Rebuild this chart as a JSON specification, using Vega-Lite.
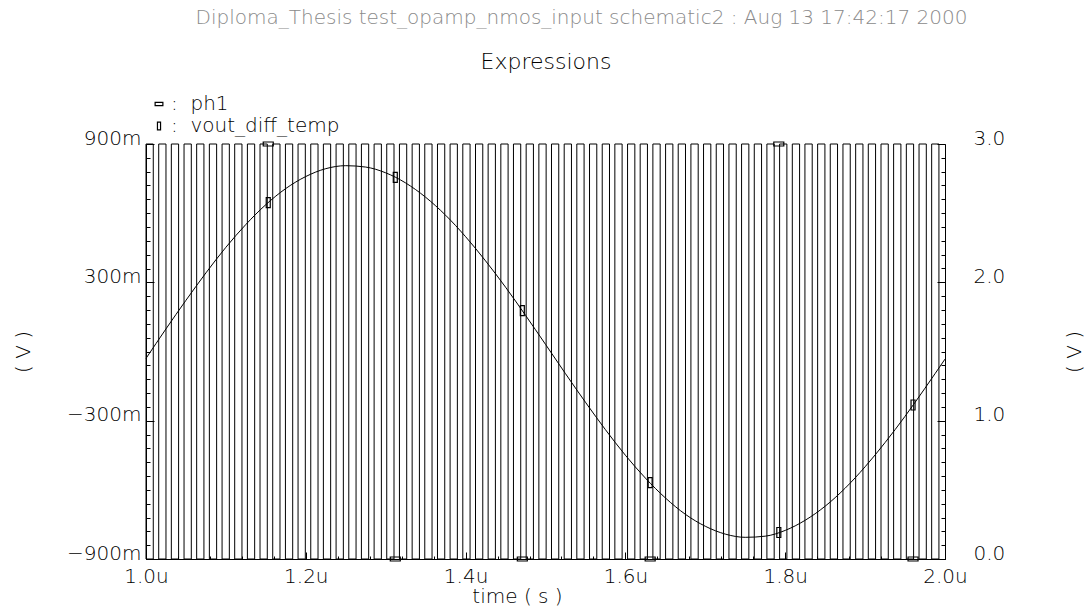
{
  "$schema": "https://vega.github.io/schema/vega-lite/v6.json",
  "width": 799,
  "height": 415,
  "autosize": "none",
  "padding": {"left": 146, "top": 144, "right": 146, "bottom": 51},
  "background": "white",
  "title": {
    "text": "Diploma_Thesis test_opamp_nmos_input schematic2 : Aug 13 17:42:17 2000",
    "color": "#8a8a8a",
    "font": "DejaVu Sans",
    "fontSize": 20,
    "fontWeight": 200,
    "anchor": "middle",
    "frame": "group",
    "dx": 36,
    "offset": 22
  },
  "config": {
    "view": {"stroke": null},
    "font": "DejaVu Sans",
    "axis": {
      "labelFont": "DejaVu Sans",
      "labelFontSize": 20,
      "labelFontWeight": 200,
      "labelColor": "#000000",
      "titleFont": "DejaVu Sans",
      "titleFontSize": 20,
      "titleFontWeight": 200,
      "titleColor": "#000000",
      "domainColor": "#000000",
      "domainWidth": 1,
      "tickColor": "#000000",
      "tickWidth": 1,
      "grid": false,
      "labelOverlap": false,
      "labelFlush": false
    }
  },
  "datasets": {
    "ph1": [
      {"rise": 1.0, "fall": 1.0091}, {"rise": 1.0159, "fall": 1.025}, {"rise": 1.0317, "fall": 1.0408},
      {"rise": 1.0476, "fall": 1.0567}, {"rise": 1.0634, "fall": 1.0725}, {"rise": 1.0793, "fall": 1.0884},
      {"rise": 1.0952, "fall": 1.1043}, {"rise": 1.111, "fall": 1.1201}, {"rise": 1.1269, "fall": 1.136},
      {"rise": 1.1427, "fall": 1.1518}, {"rise": 1.1586, "fall": 1.1677}, {"rise": 1.1745, "fall": 1.1836},
      {"rise": 1.1903, "fall": 1.1994}, {"rise": 1.2062, "fall": 1.2153}, {"rise": 1.222, "fall": 1.2311},
      {"rise": 1.2379, "fall": 1.247}, {"rise": 1.2538, "fall": 1.2629}, {"rise": 1.2696, "fall": 1.2787},
      {"rise": 1.2855, "fall": 1.2946}, {"rise": 1.3013, "fall": 1.3104}, {"rise": 1.3172, "fall": 1.3263},
      {"rise": 1.3331, "fall": 1.3422}, {"rise": 1.3489, "fall": 1.358}, {"rise": 1.3648, "fall": 1.3739},
      {"rise": 1.3806, "fall": 1.3897}, {"rise": 1.3965, "fall": 1.4056}, {"rise": 1.4124, "fall": 1.4215},
      {"rise": 1.4282, "fall": 1.4373}, {"rise": 1.4441, "fall": 1.4532}, {"rise": 1.4599, "fall": 1.469},
      {"rise": 1.4758, "fall": 1.4849}, {"rise": 1.4917, "fall": 1.5008}, {"rise": 1.5075, "fall": 1.5166},
      {"rise": 1.5234, "fall": 1.5325}, {"rise": 1.5392, "fall": 1.5483}, {"rise": 1.5551, "fall": 1.5642},
      {"rise": 1.571, "fall": 1.5801}, {"rise": 1.5868, "fall": 1.5959}, {"rise": 1.6027, "fall": 1.6118},
      {"rise": 1.6185, "fall": 1.6276}, {"rise": 1.6344, "fall": 1.6435}, {"rise": 1.6503, "fall": 1.6594},
      {"rise": 1.6661, "fall": 1.6752}, {"rise": 1.682, "fall": 1.6911}, {"rise": 1.6978, "fall": 1.7069},
      {"rise": 1.7137, "fall": 1.7228}, {"rise": 1.7296, "fall": 1.7387}, {"rise": 1.7454, "fall": 1.7545},
      {"rise": 1.7613, "fall": 1.7704}, {"rise": 1.7771, "fall": 1.7862}, {"rise": 1.793, "fall": 1.8021},
      {"rise": 1.8089, "fall": 1.818}, {"rise": 1.8247, "fall": 1.8338}, {"rise": 1.8406, "fall": 1.8497},
      {"rise": 1.8564, "fall": 1.8655}, {"rise": 1.8723, "fall": 1.8814}, {"rise": 1.8882, "fall": 1.8973},
      {"rise": 1.904, "fall": 1.9131}, {"rise": 1.9199, "fall": 1.929}, {"rise": 1.9357, "fall": 1.9448},
      {"rise": 1.9516, "fall": 1.9607}, {"rise": 1.9675, "fall": 1.9766}, {"rise": 1.9833, "fall": 1.9924}
    ],
    "vout": [
      {"t": 1.0, "v": -0.03}, {"t": 1.025, "v": 0.098}, {"t": 1.05, "v": 0.222}, {"t": 1.075, "v": 0.341},
      {"t": 1.1, "v": 0.452}, {"t": 1.125, "v": 0.551}, {"t": 1.15, "v": 0.637}, {"t": 1.175, "v": 0.707},
      {"t": 1.2, "v": 0.759}, {"t": 1.225, "v": 0.793}, {"t": 1.25, "v": 0.806}, {"t": 1.275, "v": 0.8},
      {"t": 1.3, "v": 0.775}, {"t": 1.325, "v": 0.731}, {"t": 1.35, "v": 0.669}, {"t": 1.375, "v": 0.591},
      {"t": 1.4, "v": 0.498}, {"t": 1.425, "v": 0.393}, {"t": 1.45, "v": 0.279}, {"t": 1.475, "v": 0.157},
      {"t": 1.5, "v": 0.031}, {"t": 1.525, "v": -0.096}, {"t": 1.55, "v": -0.22}, {"t": 1.575, "v": -0.339},
      {"t": 1.6, "v": -0.45}, {"t": 1.625, "v": -0.549}, {"t": 1.65, "v": -0.635}, {"t": 1.675, "v": -0.706},
      {"t": 1.7, "v": -0.758}, {"t": 1.725, "v": -0.792}, {"t": 1.75, "v": -0.806}, {"t": 1.775, "v": -0.801},
      {"t": 1.8, "v": -0.776}, {"t": 1.825, "v": -0.732}, {"t": 1.85, "v": -0.671}, {"t": 1.875, "v": -0.593},
      {"t": 1.9, "v": -0.5}, {"t": 1.925, "v": -0.395}, {"t": 1.95, "v": -0.281}, {"t": 1.975, "v": -0.159},
      {"t": 2.0, "v": -0.033}
    ],
    "markers": [
      {"t": 1.153, "series": "ph1", "v": 3}, {"t": 1.312, "series": "ph1", "v": 0},
      {"t": 1.471, "series": "ph1", "v": 0}, {"t": 1.631, "series": "ph1", "v": 0},
      {"t": 1.792, "series": "ph1", "v": 3}, {"t": 1.96, "series": "ph1", "v": 0},
      {"t": 1.153, "series": "vout_diff_temp", "v": 0.646}, {"t": 1.312, "series": "vout_diff_temp", "v": 0.755},
      {"t": 1.471, "series": "vout_diff_temp", "v": 0.177}, {"t": 1.631, "series": "vout_diff_temp", "v": -0.569},
      {"t": 1.792, "series": "vout_diff_temp", "v": -0.785}, {"t": 1.96, "series": "vout_diff_temp", "v": -0.232}
    ]
  },
  "layer": [
    {
      "layer": [
        {
          "data": {"name": "ph1"},
          "mark": {"type": "rect", "fill": null, "fillOpacity": 0, "stroke": "#000000", "strokeWidth": 1},
          "encoding": {
            "x": {"field": "rise", "type": "quantitative", "scale": {"domain": [1, 2], "nice": false, "zero": false},
              "axis": {"orient": "top", "ticks": false, "labels": false, "domain": false, "title": "Expressions",
                "titleFontSize": 22, "titlePadding": 71}},
            "x2": {"field": "fall"},
            "y": {"datum": 3, "type": "quantitative", "scale": {"domain": [0, 3], "nice": false, "zero": false},
              "axis": {"orient": "right", "values": [0, 1, 2, 3], "format": ".1f", "ticks": false, "domain": true,
                "labelPadding": 28, "labelAlign": "left", "labelBaseline": "alphabetic",
                "title": "( V )", "titleAngle": 270, "titlePadding": 80}},
            "y2": {"datum": 0}
          }
        },
        {
          "data": {"name": "ph1"},
          "mark": {"type": "point", "opacity": 0},
          "encoding": {
            "x": {"field": "rise", "type": "quantitative", "scale": {"domain": [1, 2], "nice": false, "zero": false}, "axis": null},
            "y": {"datum": 0, "type": "quantitative", "scale": {"domain": [0, 3], "nice": false, "zero": false},
              "axis": {"orient": "right", "values": [0, 1, 2, 3], "labels": false, "domain": false, "tickSize": -8, "title": null}}
          }
        },
        {
          "data": {"name": "ph1"},
          "mark": {"type": "point", "opacity": 0},
          "encoding": {
            "x": {"field": "rise", "type": "quantitative", "scale": {"domain": [1, 2], "nice": false, "zero": false}, "axis": null},
            "y": {"datum": 0, "type": "quantitative", "scale": {"domain": [0, 3], "nice": false, "zero": false},
              "axis": {"orient": "right", "labels": false, "domain": false, "tickSize": -4, "title": null,
                "values": [0, 0.1, 0.2, 0.3, 0.4, 0.5, 0.6, 0.7, 0.8, 0.9, 1, 1.1, 1.2, 1.3, 1.4, 1.5, 1.6, 1.7, 1.8, 1.9, 2, 2.1, 2.2, 2.3, 2.4, 2.5, 2.6, 2.7, 2.8, 2.9, 3]}}
          }
        },
        {
          "data": {"name": "markers"},
          "transform": [{"filter": "datum.series == 'ph1'"}],
          "mark": {"type": "point", "filled": false, "stroke": "#000000", "strokeWidth": 1.2, "size": 100, "opacity": 1},
          "encoding": {
            "x": {"field": "t", "type": "quantitative", "scale": {"domain": [1, 2], "nice": false, "zero": false}, "axis": null},
            "y": {"field": "v", "type": "quantitative", "scale": {"domain": [0, 3], "nice": false, "zero": false}, "axis": null},
            "shape": {"field": "series", "type": "nominal"}
          }
        }
      ],
      "resolve": {"axis": {"x": "independent", "y": "independent"}}
    },
    {
      "layer": [
        {
          "data": {"name": "vout"},
          "mark": {"type": "line", "color": "#000000", "strokeWidth": 1, "interpolate": "monotone"},
          "encoding": {
            "x": {"field": "t", "type": "quantitative", "scale": {"domain": [1, 2], "nice": false, "zero": false},
              "axis": {"orient": "bottom", "values": [1, 1.2, 1.4, 1.6, 1.8, 2], "labelExpr": "format(datum.value, '.1f') + 'u'",
                "ticks": false, "domain": true, "labelPadding": 7, "labelDx": 4,
                "title": "time ( s )", "titlePadding": 0, "titleX": 371}},
            "y": {"field": "v", "type": "quantitative", "scale": {"domain": [-0.9, 0.9], "nice": false, "zero": false},
              "axis": {"orient": "left", "values": [-0.9, -0.3, 0.3, 0.9], "labelExpr": "format(datum.value * 1000, 'd') + 'm'",
                "ticks": false, "domain": true, "labelPadding": 5, "labelBaseline": "alphabetic",
                "title": "( V )", "titlePadding": 33}}
          }
        },
        {
          "data": {"name": "vout"},
          "mark": {"type": "point", "opacity": 0},
          "encoding": {
            "x": {"field": "t", "type": "quantitative", "scale": {"domain": [1, 2], "nice": false, "zero": false},
              "axis": {"orient": "bottom", "values": [1, 1.2, 1.4, 1.6, 1.8, 2], "labels": false, "domain": false, "tickSize": -7, "title": null}},
            "y": {"field": "v", "type": "quantitative", "scale": {"domain": [-0.9, 0.9], "nice": false, "zero": false},
              "axis": {"orient": "left", "values": [-0.9, -0.3, 0.3, 0.9], "labels": false, "domain": false, "tickSize": -8, "title": null}}
          }
        },
        {
          "data": {"name": "vout"},
          "mark": {"type": "point", "opacity": 0},
          "encoding": {
            "x": {"field": "t", "type": "quantitative", "scale": {"domain": [1, 2], "nice": false, "zero": false},
              "axis": {"orient": "bottom", "labels": false, "domain": false, "tickSize": -3, "title": null,
                "values": [1, 1.04, 1.08, 1.12, 1.16, 1.2, 1.24, 1.28, 1.32, 1.36, 1.4, 1.44, 1.48, 1.52, 1.56, 1.6, 1.64, 1.68, 1.72, 1.76, 1.8, 1.84, 1.88, 1.92, 1.96, 2]}},
            "y": {"field": "v", "type": "quantitative", "scale": {"domain": [-0.9, 0.9], "nice": false, "zero": false},
              "axis": {"orient": "left", "labels": false, "domain": false, "tickSize": -4, "title": null,
                "values": [-0.9, -0.84, -0.78, -0.72, -0.66, -0.6, -0.54, -0.48, -0.42, -0.36, -0.3, -0.24, -0.18, -0.12, -0.06, 0, 0.06, 0.12, 0.18, 0.24, 0.3, 0.36, 0.42, 0.48, 0.54, 0.6, 0.66, 0.72, 0.78, 0.84, 0.9]}}
          }
        },
        {
          "data": {"name": "markers"},
          "transform": [{"filter": "datum.series == 'vout_diff_temp'"}],
          "mark": {"type": "point", "filled": false, "stroke": "#000000", "strokeWidth": 1.2, "size": 100, "opacity": 1},
          "encoding": {
            "x": {"field": "t", "type": "quantitative", "scale": {"domain": [1, 2], "nice": false, "zero": false}, "axis": null},
            "y": {"field": "v", "type": "quantitative", "scale": {"domain": [-0.9, 0.9], "nice": false, "zero": false}, "axis": null},
            "shape": {
              "field": "series", "type": "nominal",
              "scale": {"domain": ["ph1", "vout_diff_temp"], "range": ["M-1,-0.4H1V0.4H-1Z", "M-0.4,-1H0.4V1H-0.4Z"]},
              "legend": {
                "orient": "none", "legendX": 3, "legendY": -50, "title": null,
                "labelFont": "DejaVu Sans", "labelFontSize": 20, "labelFontWeight": 200, "labelColor": "#000000",
                "labelExpr": "':\u00a0\u00a0' + datum.label", "labelOffset": 2, "labelLimit": 0,
                "symbolSize": 60, "symbolStrokeColor": "#000000", "symbolFillColor": "transparent", "symbolStrokeWidth": 1.2,
                "rowPadding": 2
              }
            }
          }
        }
      ],
      "resolve": {"axis": {"x": "independent", "y": "independent"}}
    }
  ],
  "resolve": {"scale": {"y": "independent"}, "axis": {"x": "independent", "y": "independent"}}
}
